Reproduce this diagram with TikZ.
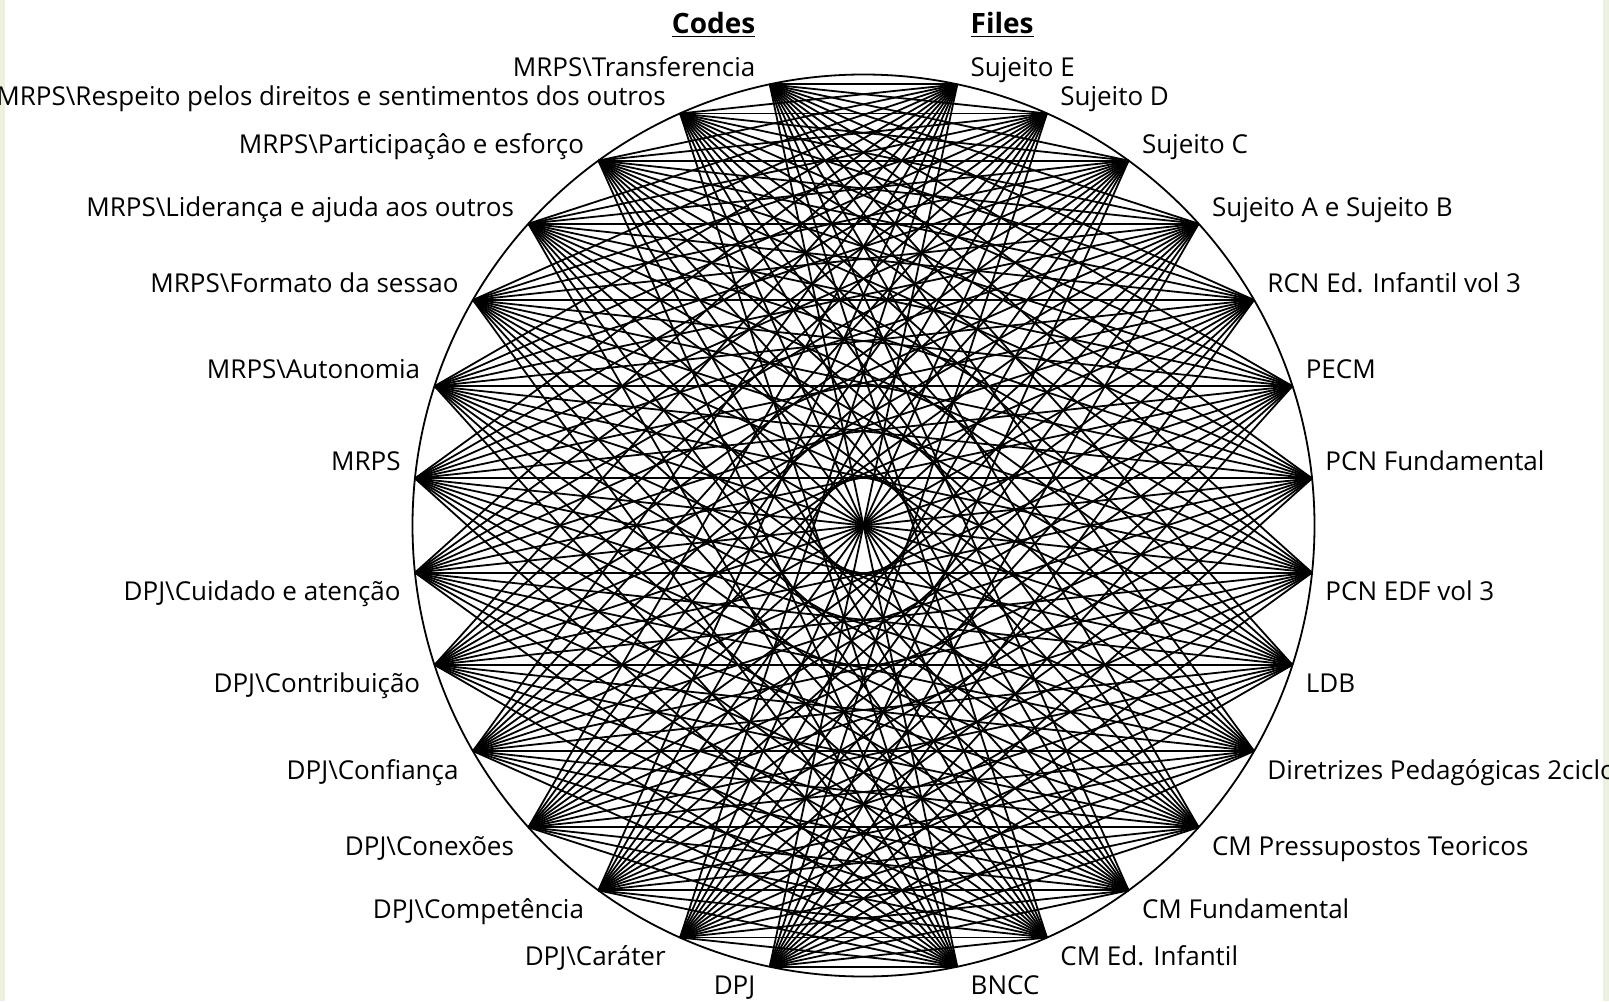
\documentclass[tikz,border=0pt]{standalone}
\usepackage{fontspec}
\setmainfont{Open Sans}
\usetikzlibrary{positioning}

\definecolor{slidegreen}{HTML}{ECF0DE}

\begin{document}
\begin{tikzpicture}[
		x=0.5pt, y=0.5pt,
		lbl/.style={inner sep=0pt, font=\fontsize{13}{15}\selectfont},
		hdr/.style={inner sep=0pt, font=\fontsize{14}{17}\selectfont\bfseries},
		link/.style={line width=0.9pt, black},
		rim/.style={line width=0.9pt, black}
	]
		\useasboundingbox (-863.5,-475.5) rectangle (745.5,525.5);
		\clip (-863.5,-475.5) rectangle (745.5,525.5);
		\fill[slidegreen] (-863.5,-475.5) rectangle (-858.5,525.5);
		\fill[slidegreen] (739.5,-475.5) rectangle (745.5,525.5);

		% circle
		\draw[rim] (0,0) circle (451);

		% codes, left half
		\foreach \i/\txt in {1/MRPS\textbackslash Transferencia,
				2/MRPS\textbackslash Respeito pelos direitos e sentimentos dos outros,
				3/MRPS\textbackslash Participaçâo e esforço,
				4/MRPS\textbackslash Liderança e ajuda aos outros,
				5/MRPS\textbackslash Formato da sessao,
				6/MRPS\textbackslash Autonomia,
				7/MRPS,
				8/DPJ\textbackslash Cuidado e atenção,
				9/DPJ\textbackslash Contribuição,
				10/DPJ\textbackslash Confiança,
				11/DPJ\textbackslash Conexões,
				12/DPJ\textbackslash Competência,
				13/DPJ\textbackslash Caráter,
				14/DPJ}{
			\coordinate (code\i) at ({90+12*\i}:451);
			\ifnum\i<8
				\node[lbl, anchor=base east] (code\i lbl) at ([shift={(-14,7.5)}]code\i) {\txt};
			\else
				\node[lbl, anchor=base east] (code\i lbl) at ([shift={(-14,-28)}]code\i) {\txt};
			\fi
		}

		% files, right half
		\foreach \j/\txt in {1/Sujeito E,
				2/Sujeito D,
				3/Sujeito C,
				4/Sujeito A e Sujeito B,
				5/RCN Ed. Infantil vol 3,
				6/PECM,
				7/PCN Fundamental,
				8/PCN EDF vol 3,
				9/LDB,
				10/Diretrizes Pedagógicas 2ciclo,
				11/CM Pressupostos Teoricos,
				12/CM Fundamental,
				13/CM Ed. Infantil,
				14/BNCC}{
			\coordinate (file\j) at ({90-12*\j}:451);
			\ifnum\j<8
				\node[lbl, anchor=base west] (file\j lbl) at ([shift={(13,7.5)}]file\j) {\txt};
			\else
				\node[lbl, anchor=base west] (file\j lbl) at ([shift={(13,-28)}]file\j) {\txt};
			\fi
		}

		\node[hdr, anchor=base east] (codes) at ([shift={(-14,51)}]code1) {\underline{Codes}};
		\node[hdr, anchor=base west] (files) at ([shift={(13,51)}]file1) {\underline{Files}};

		% every code to every file
		\foreach \i in {1,...,14}
			\foreach \j in {1,...,14}
				\draw[link] (code\i) -- (file\j);
	\end{tikzpicture}
\end{document}
